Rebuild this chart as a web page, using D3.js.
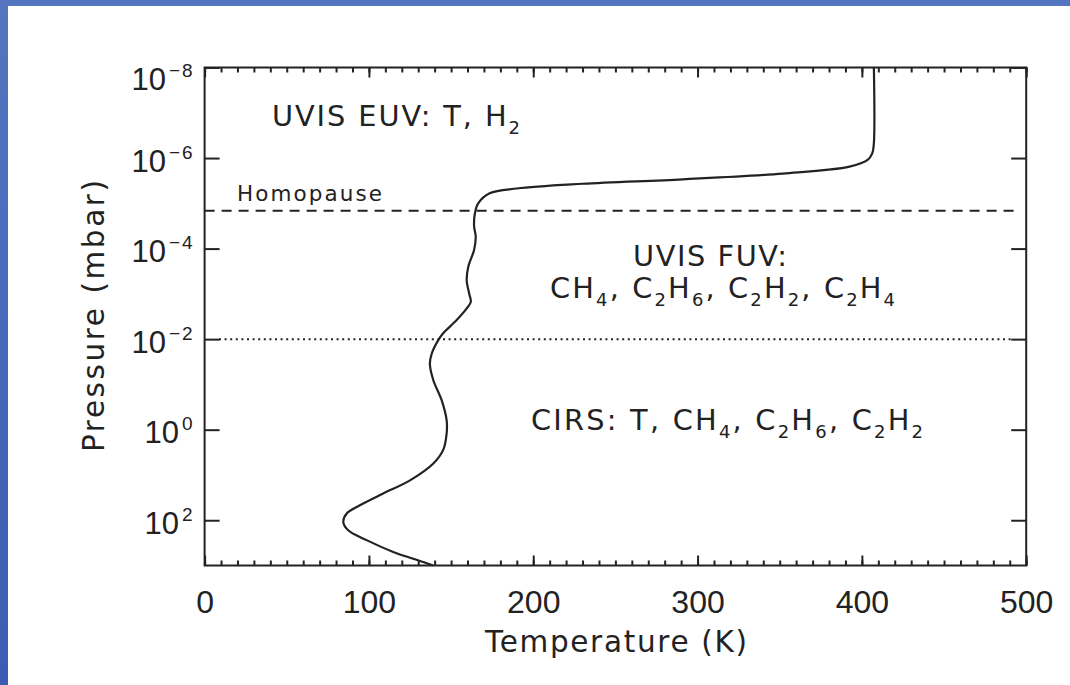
<!DOCTYPE html>
<html><head><meta charset="utf-8">
<script src="https://cdn.jsdelivr.net/npm/d3@7"></script>
<style>body{margin:0;background:#fff;} svg{display:block;}</style>
</head><body>
<svg id="c" width="1070" height="685"></svg>
<script>
// ---- data ----
const pressure = [1e-8, 4.7e-7, 7.9e-7, 1.1e-6, 1.55e-6, 2.2e-6, 2.95e-6, 3.7e-6, 4.7e-6, 6.0e-6,
  1.0e-5, 1.66e-5, 3.2e-5, 5.5e-5, 1.07e-4, 2.5e-4, 5.0e-4, 9.8e-4, 1.5e-3, 2.1e-3,
  3.8e-3, 7.4e-3, 1.05e-2, 2.1e-2, 3.5e-2, 8.1e-2, 0.22, 0.62, 1.2, 2.8,
  5.6, 13.2, 25.7, 46.8, 70.8, 110, 166, 275, 501, 708, 912, 1000];
const temperature = [407.3, 407.3, 406.3, 403.5, 392.5, 352, 291, 230, 190, 173.5,
  166.5, 164.5, 164, 165, 164, 160.5, 159.5, 161, 162, 159.5,
  153.4, 145.2, 142.2, 138.2, 137.1, 139.2, 144.2, 147.3, 147.3, 145.2,
  139.2, 125, 108.7, 94.5, 86.5, 84.4, 87.4, 98.6, 114.8, 127, 136, 139];
const xTicks = [0, 100, 200, 300, 400, 500];
const xMinorTicks = d3.range(0, 501, 10);
const yTicks = [1e-8, 1e-6, 1e-4, 1e-2, 1, 1e2];
const yTickExponents = ["\u22128", "\u22126", "\u22124", "\u22122", "0", "2"];
const homopausePressure = 1.46e-5;
const boundaryPressure = 1e-2;

(function () {
// ---- setup ----
const svg = d3.select("#c");
const ink = "#222";
const defs = svg.append("defs");
const grad = defs.append("linearGradient").attr("id", "bg")
  .attr("x1", 0).attr("y1", 0).attr("x2", 0).attr("y2", 1);
grad.append("stop").attr("offset", 0).attr("stop-color", "#5476c0");
grad.append("stop").attr("offset", 1).attr("stop-color", "#3a5cb2");
svg.append("rect").attr("width", 1070).attr("height", 685).attr("fill", "url(#bg)");
svg.append("rect").attr("x", 8).attr("y", 6).attr("width", 1062).attr("height", 679).attr("fill", "#fff");

const pL = 204.6, pR = 1026.2, pT = 67.5, pB = 565.5;
const x = d3.scaleLinear().domain([0, 500]).range([pL, pR]);
const y = d3.scaleLog().domain([1e-8, 1e3]).range([pT, pB]);

// ---- axes ticks (all inward) ----
function styleAxis(g) {
  g.select(".domain").remove();
  g.selectAll("line").attr("stroke", ink).attr("stroke-width", 2);
}
svg.append("g").attr("transform", `translate(0,${pB})`)
  .call(d3.axisBottom(x).tickValues(xMinorTicks).tickSize(-5).tickFormat(""))
  .call(styleAxis);
svg.append("g").attr("transform", `translate(0,${pB})`)
  .call(d3.axisBottom(x).tickValues(xTicks).tickSize(-10).tickPadding(25).tickFormat(d3.format("d")))
  .call(styleAxis)
  .call(g => g.selectAll("text").attr("fill", ink).attr("font-family", "Liberation Sans, Arial, sans-serif").attr("font-size", 32));
svg.append("g").attr("transform", `translate(0,${pT})`)
  .call(d3.axisTop(x).tickValues(xMinorTicks).tickSize(-5).tickFormat(""))
  .call(styleAxis);
svg.append("g").attr("transform", `translate(0,${pT})`)
  .call(d3.axisTop(x).tickValues(xTicks).tickSize(-10).tickFormat(""))
  .call(styleAxis);
svg.append("g").attr("transform", `translate(${pR},0)`)
  .call(d3.axisRight(y).tickValues(yTicks).tickSize(-15).tickFormat(""))
  .call(styleAxis);
const yAxisG = svg.append("g").attr("transform", `translate(${pL},0)`)
  .call(d3.axisLeft(y).tickValues(yTicks).tickSize(-15).tickPadding(12).tickFormat(""))
  .call(styleAxis);
yAxisG.selectAll(".tick text").each(function(d, i) {
  const t = d3.select(this);
  t.attr("dy", null).attr("x", -10).attr("y", i === 0 ? 21.5 : 13.3)
   .attr("text-anchor", "end").attr("fill", ink)
   .attr("font-family", "Liberation Sans, Arial, sans-serif").attr("font-size", 31);
  t.append("tspan").text("10");
  t.append("tspan").attr("dy", -13).attr("font-size", 19).attr("dx", 3)
   .attr("letter-spacing", 2).text(yTickExponents[i]);
});

// frame
svg.append("rect").attr("x", pL).attr("y", pT).attr("width", pR - pL).attr("height", pB - pT)
  .attr("fill", "none").attr("stroke", ink).attr("stroke-width", 2);

// reference lines
svg.append("line").attr("x1", pL).attr("x2", 1017).attr("y1", y(homopausePressure)).attr("y2", y(homopausePressure))
  .attr("stroke", ink).attr("stroke-width", 2).attr("stroke-dasharray", "10,7");
svg.append("line").attr("x1", 219).attr("x2", 1011).attr("y1", y(boundaryPressure)).attr("y2", y(boundaryPressure))
  .attr("stroke", ink).attr("stroke-width", 2).attr("stroke-dasharray", "2,3.6");

// profile
const profile = pressure.map((p, i) => ({p, t: temperature[i]}));
svg.append("path").datum(profile)
  .attr("d", d3.line().x(d => x(d.t)).y(d => y(d.p)).curve(d3.curveCatmullRom.alpha(0.5)))
  .attr("fill", "none").attr("stroke", ink).attr("stroke-width", 2.2);

// ---- text helpers ----
const wordFont = "DejaVu Sans, sans-serif";
function rich(x0, base, segs, size, subSize, width, rotate) {
  const t = svg.append("text").attr("x", x0).attr("y", base)
    .attr("font-family", wordFont).attr("font-size", size).attr("fill", ink)
    .attr("xml:space", "preserve");
  if (rotate) t.attr("transform", `rotate(-90,${x0},${base})`);
  let n = 0, sub = false;
  segs.forEach(s => {
    const isSub = Array.isArray(s);
    const str = isSub ? s[0] : s;
    const ts = t.append("tspan").text(str);
    if (isSub) { ts.attr("font-size", subSize).attr("dy", sub ? 0 : 8); sub = true; }
    else { if (sub) ts.attr("dy", -8); sub = false; }
    n += str.length;
  });
  const w = t.node().getComputedTextLength();
  const ls = (width - w) / Math.max(1, n - 1);
  t.attr("letter-spacing", ls);
  return t;
}

rich(272, 126, ["UVIS EUV: T, H", ["2"]], 28.8, 18, 248);
rich(237, 200.5, ["Homopause"], 21.5, 14, 145);
rich(633, 266, ["UVIS FUV:"], 28.8, 18, 154);
rich(550, 298, ["CH", ["4"], ", C", ["2"], "H", ["6"], ", C", ["2"], "H", ["2"], ", C", ["2"], "H", ["4"]], 28.8, 18, 345);
rich(531, 430, ["CIRS: T, CH", ["4"], ", C", ["2"], "H", ["6"], ", C", ["2"], "H", ["2"]], 28.8, 18, 392);
rich(485, 651.7, ["Temperature (K)"], 29.5, 18, 262);
rich(104, 452, ["Pressure (mbar)"], 29.5, 18, 272, true);
})();
</script>
</body></html>
